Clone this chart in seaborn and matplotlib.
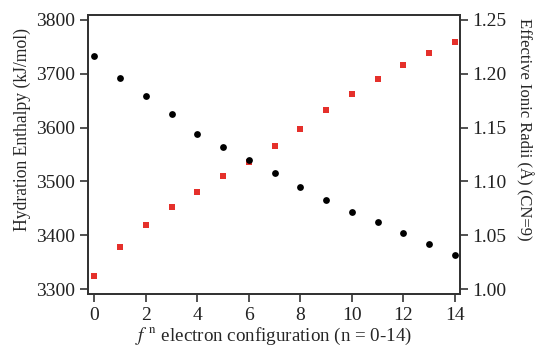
import numpy as np
import pandas as pd
import matplotlib
matplotlib.use("Agg")
import matplotlib.pyplot as plt
import seaborn as sns

sns.set_style("white")
plt.rcParams['font.family'] = ['Liberation Serif', 'DejaVu Serif']
plt.rcParams['mathtext.fontset'] = 'stix'

n_config = list(range(15))
hydration_enthalpy = [3732, 3692, 3658, 3625, 3588, 3563, 3539, 3515, 3490,
                      3465, 3444, 3425, 3404, 3384, 3364]
ionic_radii = [1.012, 1.039, 1.060, 1.076, 1.090, 1.105, 1.118, 1.133, 1.149,
               1.166, 1.181, 1.195, 1.208, 1.2195, 1.229]
x_ticks = [0, 2, 4, 6, 8, 10, 12, 14]
left_ticks = [3300, 3400, 3500, 3600, 3700, 3800]
right_ticks = [1.00, 1.05, 1.10, 1.15, 1.20, 1.25]

df = pd.DataFrame({"n": n_config, "H": hydration_enthalpy, "R": ionic_radii})

fig = plt.figure(figsize=(5.36, 3.56), dpi=100)
ax = fig.add_axes([0.164, 0.174, 0.694, 0.784])
ax2 = ax.twinx()

sns.scatterplot(data=df, x="n", y="R", ax=ax2, marker="s", color="#e5302b",
                s=22, linewidth=0, zorder=3)
sns.scatterplot(data=df, x="n", y="H", ax=ax, marker="o", color="black",
                s=24, linewidth=0, zorder=3)

ax.set_zorder(ax2.get_zorder() + 1)
ax.patch.set_visible(False)

ax.set_xlim(-0.25, 14.2)
ax.set_ylim(3291, 3809)
ax2.set_ylim(0.9955, 1.2545)

ax.set_xticks(x_ticks)
ax.set_yticks(left_ticks)
ax2.set_yticks(right_ticks)
ax2.set_yticklabels([f"{v:.2f}" for v in right_ticks])

ax.set_xlabel(r"$f^{\ \mathrm{n}}$ electron configuration (n = 0-14)", fontsize=13.7, labelpad=2)
ax.set_ylabel("Hydration Enthalpy (kJ/mol)", fontsize=12.7)
ax2.set_ylabel("Effective Ionic Radii (Å) (CN=9)", fontsize=12, rotation=270)
ax.yaxis.set_label_coords(-0.177, 0.59)
ax2.yaxis.set_label_coords(1.172, 0.59)
for lab in (ax.yaxis.label, ax2.yaxis.label):
    lab.set_va("center")
    lab.set_ha("center")

for a in (ax, ax2):
    for sp in a.spines.values():
        sp.set_color("#333333")
        sp.set_linewidth(1.3)
    a.tick_params(direction="out", length=6, width=1.2, color="#333333",
                  labelsize=14, labelcolor="#222222", pad=3)
ax.tick_params(axis="x", bottom=True, top=False)
ax.tick_params(axis="y", left=True, right=False)
ax2.tick_params(axis="y", right=True, left=False)

fig.savefig("out.png", dpi=100, facecolor="white")
